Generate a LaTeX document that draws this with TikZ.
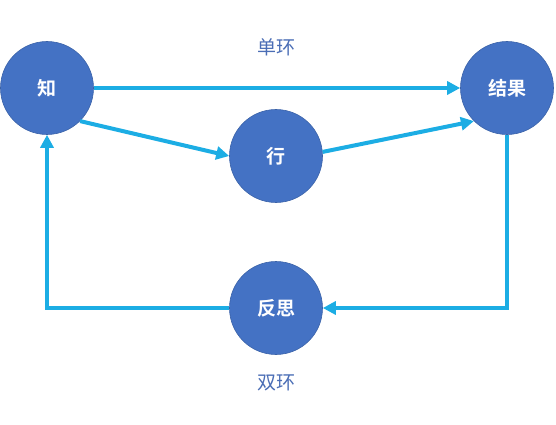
\documentclass[tikz,border=0pt]{standalone}
\usepackage{fontspec}
\newfontfamily\cjk{Noto Sans CJK SC}
\newfontfamily\cjkbold{Noto Sans CJK SC Bold}
\usetikzlibrary{arrows.meta}
\definecolor{nodeblue}{HTML}{4472C4}
\definecolor{nodeedge}{HTML}{3A62A8}
\definecolor{linkblue}{HTML}{1CADE4}
\definecolor{labelblue}{HTML}{4A6DB5}
\tikzset{
    loopnode/.style={draw=nodeedge, line width=0.6pt, fill=nodeblue, circle, minimum size=93pt, inner sep=0pt, text=white, font=\cjkbold\fontsize{19}{19}\selectfont},
    looplabel/.style={text=labelblue, font=\cjk\fontsize{19}{19}\selectfont},
    link/.style={draw=linkblue, line width=4pt, -{Triangle[length=13pt,width=13pt]}}
}
\begin{document}
\begin{tikzpicture}[auto, node distance=2cm]
    \useasboundingbox (-47pt,88pt) rectangle (509pt,-337pt);
    % Nodes
    \node [loopnode] (zhi) {知};
    \node [loopnode, right of=zhi, node distance=460pt] (jieguo) {结果};
    \node [loopnode, below of=zhi, node distance=68pt, xshift=229pt] (xing) {行};
    \node [loopnode, below of=xing, node distance=152pt] (fansi) {反思};
    \node [looplabel, above of=xing, node distance=109pt] (danhuan) {单环};
    \node [looplabel, below of=fansi, node distance=75pt] (shuanghuan) {双环};

    % Connections
    \draw [link] (zhi) -- (jieguo);
    \draw [link] (zhi.-45) -- (xing.west);
    \draw [link] (xing.5) -- (jieguo.-135);
    \draw [link] (jieguo) |- (fansi);
    \draw [link] (fansi) -| (zhi);
\end{tikzpicture}
\end{document}
